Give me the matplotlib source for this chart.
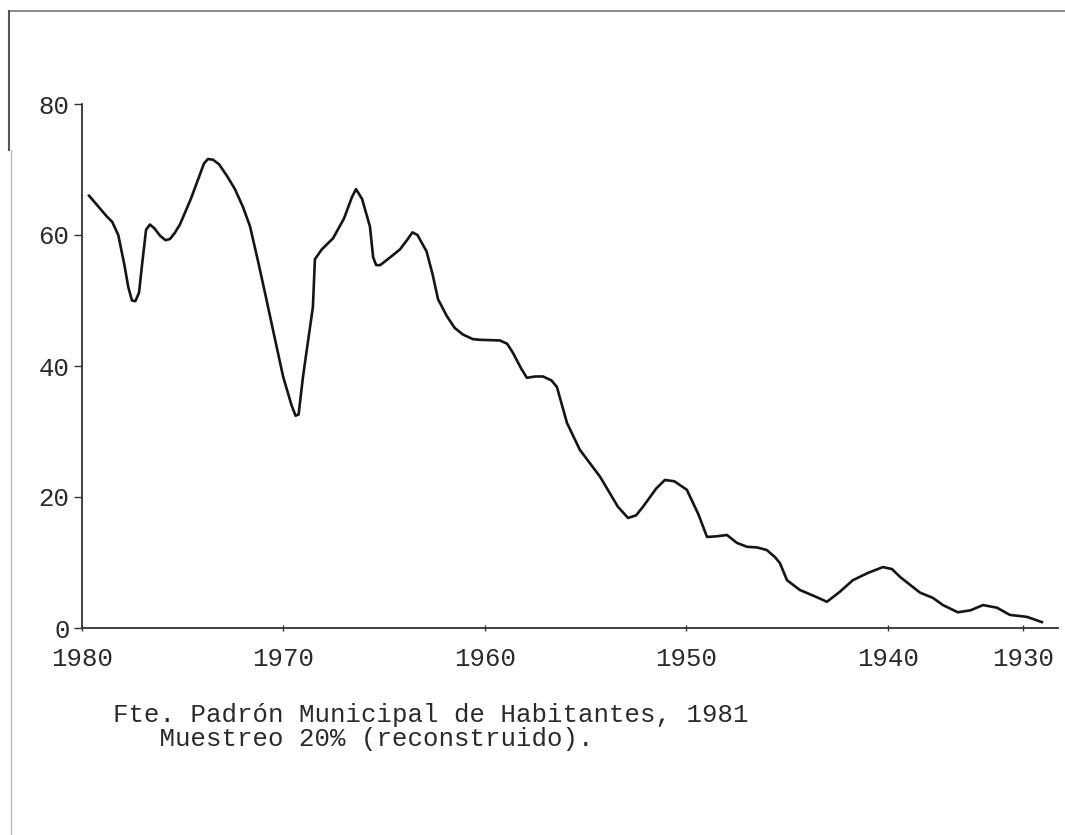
import matplotlib
matplotlib.use('Agg')
import matplotlib.pyplot as plt
from matplotlib.lines import Line2D

# values (year, value)
years = [1979.65, 1978.76, 1978.50, 1978.20, 1977.90, 1977.70, 1977.52, 1977.35,
         1977.17, 1977.00, 1976.82, 1976.63, 1976.40, 1976.13, 1975.85, 1975.63,
         1975.40, 1975.14, 1974.60, 1974.14, 1973.95, 1973.75, 1973.50, 1973.20,
         1972.80, 1972.41, 1972.00, 1971.66, 1971.30, 1970.92, 1970.45, 1970.02,
         1969.60, 1969.40, 1969.25, 1969.03, 1968.75, 1968.54, 1968.44, 1968.10,
         1967.54, 1967.00, 1966.60, 1966.40, 1966.10, 1965.71, 1965.55, 1965.40,
         1965.20, 1964.70, 1964.22, 1963.85, 1963.60, 1963.35, 1962.90, 1962.60,
         1962.33, 1961.89, 1961.50, 1961.09, 1960.60, 1960.25, 1959.26, 1958.90,
         1958.61, 1958.20, 1957.92, 1957.50, 1957.12, 1956.70, 1956.43, 1955.93,
         1955.29, 1954.29, 1953.40, 1952.90, 1952.50, 1952.16, 1951.50, 1951.07,
         1950.60, 1949.98, 1949.40, 1948.98, 1948.50, 1947.99, 1947.50, 1947.00,
         1946.50, 1946.01, 1945.60, 1945.36, 1945.01, 1944.37, 1943.60, 1943.03,
         1942.40, 1941.74, 1941.00, 1940.25, 1939.80, 1939.40, 1938.41, 1937.77,
         1937.27, 1936.53, 1935.90, 1935.28, 1934.59, 1933.95, 1933.10, 1932.36]
values = [66.0, 62.8, 62.0, 60.0, 55.5, 52.0, 50.0, 49.9,
          51.2, 56.0, 60.8, 61.6, 61.0, 59.9, 59.2, 59.4,
          60.3, 61.6, 65.5, 69.3, 70.9, 71.6, 71.5, 70.8,
          69.0, 67.0, 64.2, 61.3, 56.5, 51.2, 44.5, 38.4,
          34.0, 32.4, 32.6, 38.4, 44.5, 49.0, 56.3, 57.8,
          59.5, 62.5, 65.8, 67.0, 65.5, 61.3, 56.6, 55.4,
          55.4, 56.6, 57.8, 59.3, 60.4, 60.0, 57.5, 54.0,
          50.2, 47.6, 45.8, 44.8, 44.1, 44.0, 43.9, 43.4,
          42.0, 39.6, 38.2, 38.4, 38.4, 37.8, 36.8, 31.3,
          27.2, 23.1, 18.5, 16.8, 17.2, 18.5, 21.3, 22.6,
          22.4, 21.1, 17.3, 13.9, 14.0, 14.2, 13.0, 12.4,
          12.3, 11.9, 10.8, 9.9, 7.3, 5.8, 4.8, 4.0,
          5.5, 7.3, 8.4, 9.3, 9.0, 7.8, 5.4, 4.6,
          3.5, 2.4, 2.7, 3.5, 3.1, 2.0, 1.7, 0.9]

x_tick_pos = [1980, 1970, 1960, 1950, 1940, 1933.3]
x_tick_labels = ['1980', '1970', '1960', '1950', '1940', '1930']
y_ticks = [0, 20, 40, 60, 80]

caption = 'Fte. Padrón Municipal de Habitantes, 1981\n   Muestreo 20% (reconstruido).'

fnt = 'Liberation Mono'
txtcol = '#2a2a2a'

fig = plt.figure(figsize=(10.65, 8.35), dpi=100)
ax = fig.add_axes([82/1065, 207/835, 976/1065, 524/835])

ax.plot(years, values, color='#151515', lw=1.9, solid_joinstyle='round')

ax.set_xlim(1980, 1931.56)
ax.set_ylim(0, 80)
ax.spines['top'].set_visible(False)
ax.spines['right'].set_visible(False)
for s in ['left', 'bottom']:
    ax.spines[s].set_linewidth(1.3)
    ax.spines[s].set_color('#333333')

ax.set_xticks(x_tick_pos)
ax.set_xticklabels(x_tick_labels)
ax.set_yticks(y_ticks)
ax.tick_params(axis='y', direction='out', length=6, width=1, pad=3, color='#333333')
ax.tick_params(axis='x', direction='inout', length=5, width=1, pad=11, color='#333333')
for lab in ax.get_xticklabels() + ax.get_yticklabels():
    lab.set_fontfamily(fnt)
    lab.set_fontsize(18.5)
    lab.set_color(txtcol)

fig.text(113/1065, 1 - 703/835, caption, family=fnt, fontsize=18.5, color=txtcol,
         va='top', ha='left', linespacing=1.0)

# scan frame
fig.add_artist(Line2D([9/1065, 1], [1 - 11/835, 1 - 11/835], color='#777777', lw=1.2))
fig.add_artist(Line2D([9/1065, 9/1065], [1 - 11/835, 1 - 150/835], color='#555555', lw=1.5))
fig.add_artist(Line2D([11/1065, 11/1065], [0, 1 - 150/835], color='#bbbbbb', lw=1.0))

fig.savefig('out.png', dpi=100, facecolor='white')
